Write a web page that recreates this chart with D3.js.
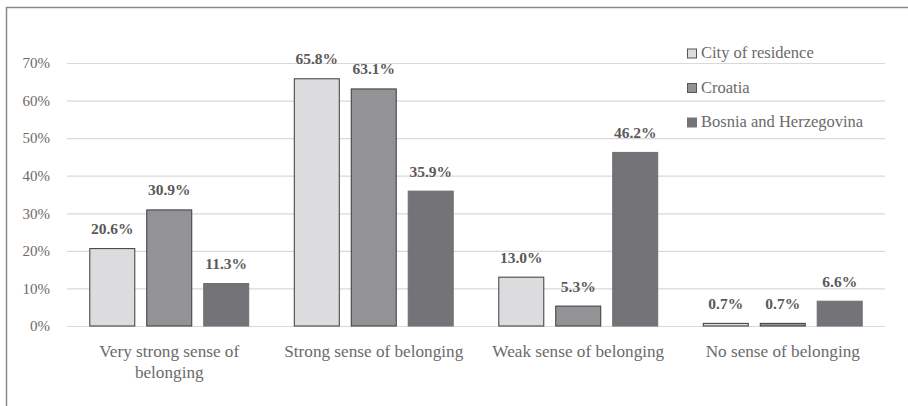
<!DOCTYPE html>
<html><head><meta charset="utf-8">
<script src="https://cdn.jsdelivr.net/npm/d3@7/dist/d3.min.js"></script>
<style>body{margin:0;background:#fff;} svg{display:block;}</style>
</head><body>
<svg id="c" width="908" height="406"></svg>
<script>
const categories = ["Very strong sense of belonging","Strong sense of belonging","Weak sense of belonging","No sense of belonging"];
const seriesNames = ["City of residence","Croatia","Bosnia and Herzegovina"];
const cityValues = [20.6, 65.8, 13.0, 0.7];
const croatiaValues = [30.9, 63.1, 5.3, 0.7];
const bihValues = [11.3, 35.9, 46.2, 6.6];
const yTicks = [0,10,20,30,40,50,60,70];
const colors = ["#dcdcde","#939396","#747478"];
const strokes = ["#3a3a3a","#3a3a3a","#6e6e72"];
const seriesValues = [cityValues, croatiaValues, bihValues];

const FONT = '"Liberation Serif", "Times New Roman", "DejaVu Serif", serif';
const svg = d3.select("#c").style("font-family", FONT);
// frame
svg.append("path").attr("d","M6.5,406 V7.5 H908").attr("fill","none").attr("stroke","#8a8a8a").attr("stroke-width",1.5);

const pLeft = 67, pRight = 885, pTop = 63, pBottom = 326;
const x0 = d3.scaleBand().domain(categories).range([pLeft,pRight]).paddingInner(0).paddingOuter(0);
const x1 = d3.scaleBand().domain(seriesNames).range([0,x0.bandwidth()]).paddingInner(0.21).paddingOuter(0.4);
const y = d3.scaleLinear().domain([0,70]).range([pBottom,pTop]);

// gridlines
const yAxis = d3.axisLeft(y).tickValues(yTicks).tickFormat(d=>d+"%").tickSize(-(pRight-pLeft)).tickPadding(17);
const ga = svg.append("g").attr("transform",`translate(${pLeft},0)`).call(yAxis);
ga.select(".domain").remove();
ga.selectAll(".tick line").attr("stroke","#d9d9d9").attr("stroke-width",1.2);
ga.selectAll(".tick text").attr("fill","#6a6a6a").style("font-family",FONT).style("font-size","15px");

// bars
const groups = svg.append("g").selectAll("g").data(categories).join("g")
  .attr("transform",d=>`translate(${x0(d)},0)`);
seriesNames.forEach((s,si)=>{
  groups.append("rect")
    .attr("x",x1(s)).attr("width",x1.bandwidth())
    .attr("y",(d,i)=>y(seriesValues[si][i]))
    .attr("height",(d,i)=>pBottom - y(seriesValues[si][i]))
    .attr("fill",colors[si]).attr("stroke",strokes[si]).attr("stroke-width",1);
  groups.append("text")
    .attr("x",x1(s)+x1.bandwidth()/2)
    .attr("y",(d,i)=>y(seriesValues[si][i]) - 14.5)
    .attr("text-anchor","middle")
    .style("font-family",FONT).style("font-weight","bold").style("font-size","15.5px")
    .attr("fill","#5a5a5a")
    .text((d,i)=>seriesValues[si][i].toFixed(1)+"%");
});

// category labels
const xAxis = d3.axisBottom(x0).tickSize(0).tickPadding(0);
const gx = svg.append("g").attr("transform",`translate(0,${pBottom})`).call(xAxis);
gx.select(".domain").remove();
gx.selectAll(".tick text").each(function(d){
  const t = d3.select(this);
  t.text(null).attr("fill","#6a6a6a").style("font-family",FONT).style("font-size","17.2px").attr("dy",null).attr("y",0);
  const lines = d === categories[0] ? ["Very strong sense of","belonging"] : [d];
  lines.forEach((l,i)=>t.append("tspan").attr("x",0).attr("y",31 + i*21).text(l));
});

// legend
const lg = svg.append("g");
seriesNames.forEach((s,i)=>{
  const cy = 53 + i*34.5;
  lg.append("rect").attr("x",687.5).attr("y",cy-4).attr("width",9).attr("height",9)
    .attr("fill",colors[i]).attr("stroke",i<2?"#555":"#747478").attr("stroke-width",1);
  lg.append("text").attr("x",701).attr("y",cy+5).style("font-family",FONT).style("font-size","16.5px")
    .attr("fill","#6a6a6a").text(s);
});
</script>
</body></html>
